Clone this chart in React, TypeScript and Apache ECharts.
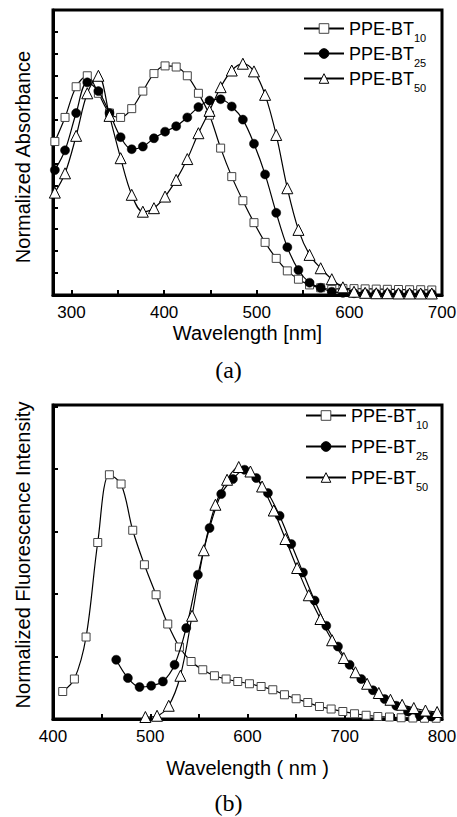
import React, { useEffect, useRef } from 'react';
import * as echarts from 'echarts';

// ---------- data ----------
const seriesNames = ['PPE-BT10', 'PPE-BT25', 'PPE-BT50'];

// (a) absorbance
const absWavelength = [282, 293, 305, 317, 329, 341, 353, 365, 377, 389, 401, 413, 425, 437, 449, 461, 473, 485, 497, 509, 521, 533, 545, 557, 569, 581, 593, 605, 617, 629, 641, 653, 665, 677, 689];
const absBT10 = [0.70, 0.81, 0.95, 1.00, 0.92, 0.83, 0.81, 0.85, 0.93, 1.01, 1.045, 1.04, 1.00, 0.92, 0.82, 0.67, 0.54, 0.43, 0.33, 0.24, 0.167, 0.11, 0.072, 0.046, 0.033, 0.026, 0.03, 0.029, 0.028, 0.027, 0.026, 0.025, 0.024, 0.024, 0.023];
const absBT25 = [0.57, 0.66, 0.83, 0.97, 0.93, 0.83, 0.72, 0.665, 0.677, 0.715, 0.745, 0.77, 0.81, 0.857, 0.887, 0.893, 0.86, 0.80, 0.69, 0.55, 0.375, 0.218, 0.114, 0.056, 0.033, 0.015, 0.01, 0.008, 0.007, 0.006, 0.006, 0.005, 0.005, 0.005, 0.005];
const absBT50 = [0.467, 0.555, 0.726, 0.92, 1.0, 0.817, 0.624, 0.457, 0.38, 0.396, 0.449, 0.525, 0.62, 0.738, 0.84, 0.948, 1.024, 1.055, 1.02, 0.913, 0.73, 0.487, 0.297, 0.183, 0.122, 0.072, 0.035, 0.015, 0.01, 0.008, 0.008, 0.007, 0.007, 0.007, 0.007];

// (b) fluorescence
const flWavelength10 = [410, 422, 434, 446, 458, 470, 482, 494, 506, 518, 530, 542, 554, 566, 578, 590, 602, 614, 626, 638, 650, 662, 674, 686, 698, 710, 722, 734, 746, 758, 770, 782, 794];
const flBT10 = [0.11, 0.16, 0.328, 0.706, 0.977, 0.94, 0.755, 0.617, 0.497, 0.38, 0.288, 0.23, 0.197, 0.173, 0.16, 0.15, 0.141, 0.13, 0.117, 0.097, 0.081, 0.066, 0.05, 0.04, 0.03, 0.021, 0.015, 0.01, 0.008, 0.005, 0.004, 0.003, 0.003];
const flWavelength25 = [465, 477, 489, 501, 513, 525, 537, 549, 561, 573, 585, 597, 609, 621, 633, 645, 657, 669, 681, 693, 705, 717, 729, 741, 753, 765, 777, 789];
const flBT25 = [0.237, 0.164, 0.128, 0.133, 0.15, 0.217, 0.364, 0.577, 0.764, 0.90, 0.96, 0.997, 0.964, 0.904, 0.813, 0.70, 0.586, 0.474, 0.373, 0.29, 0.217, 0.16, 0.115, 0.08, 0.053, 0.03, 0.015, 0.01];
const flWavelength50 = [495, 507, 519, 531, 543, 555, 567, 579, 591, 603, 615, 627, 639, 651, 663, 675, 687, 699, 711, 723, 735, 747, 759, 771, 783, 795];
const flBT50 = [0.008, 0.013, 0.053, 0.173, 0.413, 0.675, 0.857, 0.957, 1.008, 0.99, 0.93, 0.834, 0.72, 0.604, 0.495, 0.40, 0.315, 0.244, 0.187, 0.141, 0.104, 0.077, 0.057, 0.044, 0.034, 0.028];

// ticks
const absXTicks = [300, 350, 400, 450, 500, 550, 600, 650, 700];
const absXLabels = [300, 400, 500, 600, 700];
const flXTicks = [400, 450, 500, 550, 600, 650, 700, 750, 800];
const flXLabels = [400, 500, 600, 700, 800];

const FONT = '"Liberation Sans", Arial, Helvetica, sans-serif';
const SERIF = '"Liberation Serif", "Times New Roman", serif';

const markerStyles: any[] = [
  { symbol: 'rect', symbolSize: 8, itemStyle: { color: '#fff', borderColor: '#444', borderWidth: 1 } },
  { symbol: 'circle', symbolSize: 9, itemStyle: { color: '#000', borderColor: '#000', borderWidth: 0.5 } },
  { symbol: 'triangle', symbolSize: 11, itemStyle: { color: '#fff', borderColor: '#000', borderWidth: 1 } },
];

function makeSeries(name: string, xs: number[], ys: number[], idx: number, axis: number) {
  return {
    type: 'line',
    name,
    xAxisIndex: axis,
    yAxisIndex: axis,
    data: xs.map((x, i) => [x, ys[i]]),
    smooth: 0.35,
    showSymbol: true,
    symbol: markerStyles[idx].symbol,
    symbolSize: markerStyles[idx].symbolSize,
    itemStyle: markerStyles[idx].itemStyle,
    lineStyle: { color: '#000', width: 1.2 },
    emphasis: { disabled: true },
    z: 2 + idx,
  };
}

function xAxisCfg(grid: number, min: number, max: number, ticks: number[], labels: number[], name: string, nameGap: number) {
  return {
    type: 'value',
    gridIndex: grid,
    min,
    max,
    name,
    nameLocation: 'middle',
    nameGap,
    nameTextStyle: { fontFamily: FONT, fontSize: 20, color: '#000' },
    axisLine: { show: true, lineStyle: { color: '#000', width: 3 } },
    axisTick: { show: true, inside: true, length: 5, customValues: ticks, lineStyle: { color: '#000', width: 2 } },
    axisLabel: { show: true, customValues: labels, margin: 9, fontFamily: FONT, fontSize: 17, color: '#000' },
    splitLine: { show: false },
  };
}

function yAxisCfg(grid: number, max: number, interval: number, name: string, pad: number[]) {
  return {
    type: 'value',
    gridIndex: grid,
    min: 0,
    max,
    interval,
    name,
    nameLocation: 'middle',
    nameGap: 20,
    nameTextStyle: { fontFamily: FONT, fontSize: 20, color: '#000', padding: pad },
    axisLine: { show: true, lineStyle: { color: '#000', width: 3 } },
    axisTick: { show: true, inside: true, length: 5, lineStyle: { color: '#000', width: 2 } },
    axisLabel: { show: false },
    splitLine: { show: false },
  };
}

function legendCfg(left: number, top: number, gap: number) {
  return {
    orient: 'vertical',
    left,
    top,
    padding: 0,
    itemWidth: 40,
    itemHeight: 12,
    itemGap: gap,
    data: seriesNames,
    selectedMode: false,
    itemStyle: { borderWidth: 1 },
    formatter: (n: string) => `{m|${n.slice(0, 6)}}{s|${n.slice(6)}}`,
    textStyle: {
      color: '#000',
      fontFamily: FONT,
      rich: {
        m: { fontFamily: FONT, fontSize: 18, lineHeight: 20, color: '#000' },
        s: { fontFamily: FONT, fontSize: 11, lineHeight: 4, padding: [18, 0, 0, 0], color: '#000' },
      },
    },
  };
}

export default function App() {
  const ref = useRef<HTMLDivElement>(null);
  useEffect(() => {
    if (!ref.current) return;
    const chart = echarts.init(ref.current, undefined, { renderer: 'svg' });
    const option: any = {
      animation: false,
      backgroundColor: '#fff',
      grid: [
        { left: 53, top: 10, width: 389, height: 285, show: true, borderColor: '#000', borderWidth: 3, backgroundColor: 'transparent', outerBoundsMode: 'none' },
        { left: 53, top: 405, width: 389, height: 314, show: true, borderColor: '#000', borderWidth: 3, backgroundColor: 'transparent', outerBoundsMode: 'none' },
      ],
      xAxis: [
        xAxisCfg(0, 280, 700, absXTicks, absXLabels, 'Wavelength [nm]', 28),
        xAxisCfg(1, 400, 800, flXTicks, flXLabels, 'Wavelength ( nm )', 39),
      ],
      yAxis: [
        yAxisCfg(0, 1.3, 0.1, 'Normalized Absorbance', [0, 9, 0, 0]),
        yAxisCfg(1, 1.256, 0.25, 'Normalized Fluorescence Intensity', [0, 0, 0, 14]),
      ],
      legend: [legendCfg(303, 14, -4), legendCfg(305, 401, 2)],
      graphic: [
        { type: 'text', left: 'center', top: 358, style: { text: '(a)', fontFamily: SERIF, fontSize: 24, fill: '#000' } },
        { type: 'text', left: 'center', top: 791, style: { text: '(b)', fontFamily: SERIF, fontSize: 24, fill: '#000' } },
      ],
      series: [
        makeSeries(seriesNames[0], absWavelength, absBT10, 0, 0),
        makeSeries(seriesNames[1], absWavelength, absBT25, 1, 0),
        makeSeries(seriesNames[2], absWavelength, absBT50, 2, 0),
        makeSeries(seriesNames[0], flWavelength10, flBT10, 0, 1),
        makeSeries(seriesNames[1], flWavelength25, flBT25, 1, 1),
        makeSeries(seriesNames[2], flWavelength50, flBT50, 2, 1),
      ],
    };
    chart.setOption(option);
    return () => chart.dispose();
  }, []);
  return <div ref={ref} style={{ position: 'absolute', left: 0, top: 0, width: 457, height: 817 }} />;
}
